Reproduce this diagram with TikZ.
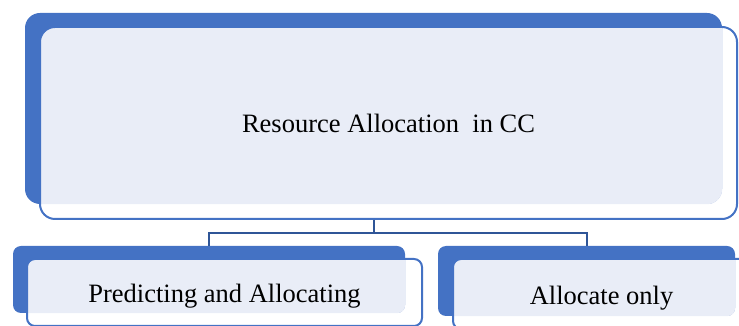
\documentclass[tikz,border=0pt]{standalone}
\usepackage{fontspec}
\setmainfont{Liberation Serif}

\definecolor{cardblue}{HTML}{4472C4}
\definecolor{cardfill}{HTML}{E9EDF7}
\definecolor{linkblue}{HTML}{2F5597}

\tikzset{
  backcard/.style={rectangle, rounded corners=#1, fill=cardblue, inner sep=0pt},
  frontcard/.style={rectangle, rounded corners=#1, draw=cardblue, line width=2pt,
    inner sep=0pt, font=\fontsize{26.5}{30}\selectfont},
  link/.style={draw=linkblue, line width=2pt}
}

\begin{document}
\begin{tikzpicture}[x=1pt, y=1pt]
    \useasboundingbox (0,0) rectangle (739,326);
    \clip (0,0) rectangle (739,326);

    % top card
    \node[backcard=15pt, minimum width=697pt, minimum height=191pt] (top_back) at (373.5, 217.5) {};
    \begin{scope}
      \clip[rounded corners=15pt] (top_back.south west) rectangle (top_back.north east);
      \fill[cardfill, rounded corners=15pt] (40,107) rectangle (737,299);
    \end{scope}
    \node[frontcard=15pt, minimum width=697pt, minimum height=192pt] (top_front) at (388.5, 203)
      {Resource Allocation~ in CC};

    % left card
    \node[backcard=8pt, minimum width=392pt, minimum height=67pt] (left_back) at (209, 46.5) {};
    \begin{scope}
      \clip[rounded corners=8pt] (left_back.south west) rectangle (left_back.north east);
      \fill[cardfill, rounded corners=8pt] (27,0) rectangle (422,67);
    \end{scope}
    \node[frontcard=8pt, minimum width=395pt, minimum height=67pt] (left_front) at (224.5, 33.5)
      {\raisebox{-4pt}[\height][\depth]{Predicting and Allocating}};

    % right card
    \node[backcard=8pt, minimum width=297pt, minimum height=70pt] (right_back) at (586.5, 45) {};
    \begin{scope}
      \clip[rounded corners=8pt] (right_back.south west) rectangle (right_back.north east);
      \fill[cardfill, rounded corners=8pt] (453,-3) rectangle (750,67);
    \end{scope}
    \node[frontcard=8pt, minimum width=297pt, minimum height=70pt] (right_front) at (601.5, 32)
      {\raisebox{-4pt}[\height][\depth]{Allocate only}};

    \draw[link] (top_back.south |- top_front.south) -- ++(0,-13) coordinate (fork);
    \draw[link] (fork) -| (left_back.north);
    \draw[link] (fork) -| (right_back.north);
  \end{tikzpicture}
\end{document}
